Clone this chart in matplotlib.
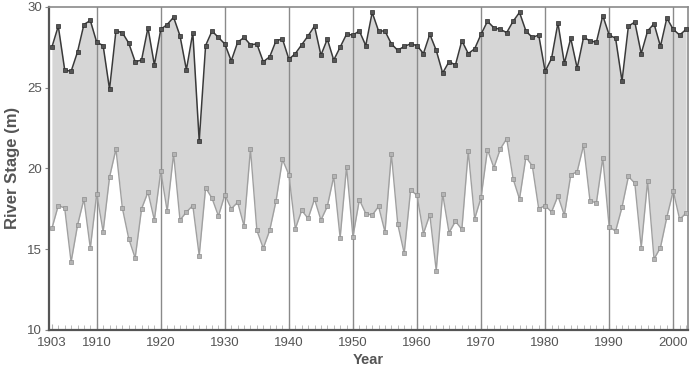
import matplotlib
matplotlib.use("Agg")
import matplotlib.pyplot as plt
import numpy as np

years = list(range(1903, 2003))

upper = [27.5, 28.8, 26.1, 26.0, 27.2, 28.9, 29.15, 27.8, 27.6, 24.9,
         28.5, 28.4, 27.75, 26.6, 26.7, 28.7, 26.4, 28.6, 28.9, 29.35,
         28.2, 26.1, 28.4, 21.7, 27.6, 28.5, 28.1, 27.7, 26.65, 27.8,
         28.1, 27.65, 27.7, 26.6, 26.9, 27.9, 28.0, 26.75, 27.1, 27.65,
         28.2, 28.8, 27.0, 28.0, 26.7, 27.5, 28.3, 28.25, 28.5, 27.6,
         29.65, 28.5, 28.5, 27.7, 27.3, 27.55, 27.7, 27.6, 27.1, 28.3,
         27.3, 25.9, 26.6, 26.4, 27.9, 27.1, 27.4, 28.3, 29.1, 28.7,
         28.6, 28.4, 29.1, 29.65, 28.5, 28.1, 28.25, 26.0, 26.8, 29.0,
         26.5, 28.05, 26.2, 28.1, 27.9, 27.8, 29.45, 28.25, 28.05, 25.4,
         28.8, 29.05, 27.1, 28.5, 28.95, 27.55, 29.3, 28.6, 28.25, 28.6]

lower = [16.28, 17.7, 17.55, 14.2, 16.47, 18.1, 15.06, 18.43, 16.08, 19.45,
         21.2, 17.55, 15.65, 14.45, 17.5, 18.53, 16.8, 19.83, 17.35, 20.9,
         16.8, 17.3, 17.7, 14.6, 18.8, 18.15, 17.05, 18.37, 17.5, 17.9,
         16.43, 21.2, 16.16, 15.06, 16.16, 18.0, 20.55, 19.6, 16.26, 17.4,
         16.9, 18.1, 16.8, 17.65, 19.5, 15.7, 20.1, 15.77, 18.06, 17.2,
         17.1, 17.65, 16.06, 20.9, 16.53, 14.75, 18.67, 18.33, 15.96, 17.14,
         13.67, 18.43, 16.02, 16.73, 16.22, 21.06, 16.88, 18.2, 21.16, 20.04,
         21.2, 21.84, 19.35, 18.1, 20.7, 20.15, 17.5, 17.7, 17.3, 18.3,
         17.1, 19.6, 19.8, 21.43, 18.0, 17.86, 20.65, 16.37, 16.12, 17.6,
         19.5, 19.08, 15.1, 19.22, 14.39, 15.1, 16.98, 18.61, 16.84, 17.24]

xtick_labels = [1903, 1910, 1920, 1930, 1940, 1950, 1960, 1970, 1980, 1990, 2000]
decade_lines = [1910, 1920, 1930, 1940, 1950, 1960, 1970, 1980, 1990, 2000]
yticks = [10, 15, 20, 25, 30]

plt.rcParams['font.family'] = ['Liberation Sans', 'DejaVu Sans']

fig = plt.figure(figsize=(6.92, 3.75), dpi=100)
ax = fig.add_axes([0.0708, 0.12, 0.9234, 0.862])

ax.fill_between(years, lower, upper, color='#d6d6d6', lw=0, zorder=1)
for d in decade_lines:
    ax.axvline(d, color='#8a8a8a', lw=1.0, zorder=2)

ax.plot(years, lower, color='#a0a0a0', lw=1.0, marker='s', ms=2.8,
        mfc='#b4b4b4', mec='#8c8c8c', mew=0.5, zorder=3)
ax.plot(years, upper, color='#3a3a3a', lw=1.1, marker='s', ms=2.8,
        mfc='#555555', mec='#2a2a2a', mew=0.5, zorder=4)

ax.set_xlim(1902.55, 2002.3)
ax.set_ylim(10, 30)

ax.set_yticks(yticks)
ax.set_xticks(xtick_labels)
ax.set_xticklabels([str(v) for v in xtick_labels])
ax.set_xticks(years, minor=True)

ax.tick_params(axis='y', direction='out', length=3, width=0.8, color='#888888',
               labelsize=9.5, labelcolor='#555555', pad=2)
ax.tick_params(axis='x', which='major', direction='in', length=4, width=0.8,
               color='#b0b0b0', labelsize=9.5, labelcolor='#555555', pad=5)
ax.tick_params(axis='x', which='minor', direction='in', length=3.5, width=0.6,
               color='#b0b0b0')

for side in ['left', 'bottom']:
    ax.spines[side].set_color('#555555')
    ax.spines[side].set_linewidth(1.6)
for side in ['top', 'right']:
    ax.spines[side].set_color('#8a8a8a')
    ax.spines[side].set_linewidth(1.2)

ax.set_ylabel('River Stage (m)', fontsize=12, fontweight='bold', color='#555555', labelpad=5)
ax.set_xlabel('Year', fontsize=10.5, fontweight='bold', color='#555555', labelpad=3)

fig.savefig('out.png', dpi=100)
